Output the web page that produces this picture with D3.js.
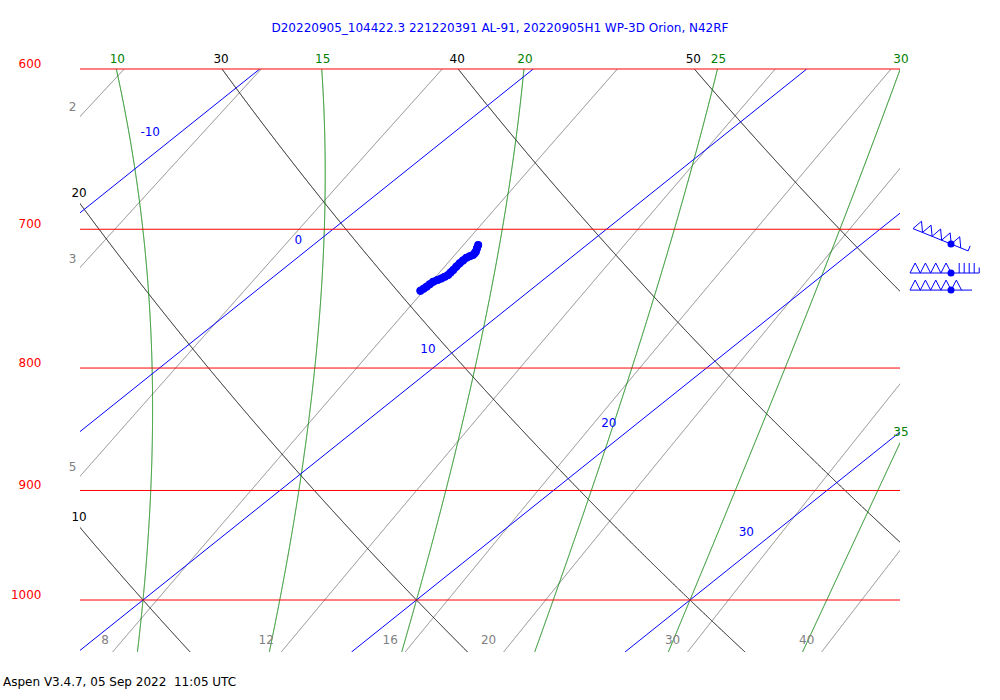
<!DOCTYPE html>
<html><head><meta charset="utf-8">
<script src="https://cdn.jsdelivr.net/npm/d3@7"></script>
<style>
body{margin:0;background:#fff}
text{font-family:"DejaVu Sans",sans-serif;font-size:12px}
</style>
</head><body><svg id="c" width="1000" height="700"></svg>
<script>
// ---------- data ----------
const titleText = "D20220905_104422.3 221220391 AL-91, 20220905H1 WP-3D Orion, N42RF";
const footerText = "Aspen V3.4.7, 05 Sep 2022  11:05 UTC";
const isobars = [600, 700, 800, 900, 1000];
const isotherms = [-10, 0, 10, 20, 30];
const isothermLabelP = [637, 707, 785, 843, 936];
const dryAdiabats = [10, 20, 30, 40, 50];
const moistAdiabats = [10, 15, 20, 25, 30, 35];
const mixingRatios = [2, 3, 5, 8, 12, 16, 20, 30, 40];
const soundP = [742.7, 741.2, 739.8, 738.0, 736.2, 735.0, 733.9, 732.7, 731.5, 729.8, 728.0, 725.6, 723.3, 721.3, 719.4, 718.5, 717.6, 716.4, 715.3, 713.0, 710.7];
const soundT = [6.01, 6.03, 6.05, 6.05, 6.06, 6.14, 6.21, 6.26, 6.30, 6.28, 6.26, 6.22, 6.19, 6.18, 6.18, 6.24, 6.30, 6.28, 6.25, 6.14, 6.03];
const windP = [710.0, 730.1, 742.2];
const windDir = [292, 270, 270];
const windSpd = [255, 245, 250];

// ---------- geometry ----------
const svg = d3.select("#c");
const plot = {left: 80, right: 900, top: 69, bottom: 652};
const y = d3.scaleLog().domain([1000, 600]).range([600, 69]);
const xT = d3.scaleLinear().domain([10, 30]).range([143, 690]);
const skew = 1.25;
const px = (T, p) => xT(T) + skew * (y(1000) - y(p));
const pBot = y.invert(plot.bottom), pTop = 600;

svg.append("defs").append("clipPath").attr("id", "clip")
  .append("rect").attr("x", plot.left).attr("y", plot.top)
  .attr("width", plot.right - plot.left).attr("height", plot.bottom - plot.top);
const gc = svg.append("g").attr("clip-path", "url(#clip)");
const line = d3.line().x(d => px(d[1], d[0])).y(d => y(d[0]));

const pSamples = d3.range(1060, 589.9, -0.25);
const inside = (xx, yy) => xx >= plot.left - 0.01 && xx <= plot.right + 0.01 && yy >= plot.top - 0.01 && yy <= plot.bottom + 0.01;
function ends(prof) {
  const pts = prof.map(d => [px(d[1], d[0]), y(d[0])]).filter(q => inside(q[0], q[1]));
  return {lower: pts[0], upper: pts[pts.length - 1]};
}

// isobars
isobars.forEach(p => {
  svg.append("line").attr("x1", plot.left).attr("x2", plot.right)
    .attr("y1", y(p)).attr("y2", y(p)).attr("stroke", "#ff0000").attr("stroke-width", 1);
  svg.append("text").attr("x", 41.5).attr("y", y(p) - 1).attr("text-anchor", "end")
    .attr("fill", "#ff0000").text(p);
});

// mixing ratio lines
function tdFromW(w, p) {
  const e = w * p / (622 + w);
  const l = Math.log(e / 6.112);
  return 243.5 * l / (17.67 - l);
}
mixingRatios.forEach(w => {
  const prof = pSamples.map(p => [p, tdFromW(w, p)]);
  gc.append("path").attr("d", line(prof)).attr("fill", "none").attr("stroke", "#808080").attr("stroke-width", 1);
  const e = ends(prof);
  const lab = String(w);
  const onLeft = e.lower[0] < plot.left + 1;
  svg.append("text").attr("x", e.lower[0] - 7.5 * lab.length)
    .attr("y", e.lower[1] - (onLeft ? 5 : 7.5))
    .attr("text-anchor", "middle").attr("fill", "#808080").text(lab);
});

// dry adiabats
const kap = 0.2873;
dryAdiabats.forEach(th => {
  const prof = pSamples.map(p => [p, (th + 273.15) * Math.pow(p / 1000, kap) - 273.15]);
  gc.append("path").attr("d", line(prof)).attr("fill", "none").attr("stroke", "#000").attr("stroke-width", 1);
  const e = ends(prof);
  svg.append("text").attr("x", e.upper[0] - 1).attr("y", e.upper[1] - 6.5)
    .attr("text-anchor", "middle").attr("fill", "#000").text(th);
});

// moist adiabats (pseudo-adiabatic, temperature-dependent latent heat)
function lapse(p, T) {
  const Rd = 287.04, cp = 1005.7, eps = 0.622;
  const Tc = T - 273.15;
  const Lv = 2.501e6 - 2150 * Tc;
  const es = 6.112 * Math.exp(17.67 * Tc / (Tc + 243.5));
  const rs = eps * es / (p - es);
  return (Rd * T + Lv * rs) / (cp + Lv * Lv * rs * eps / (Rd * T * T)) / p;
}
function rk4(p, T, h) {
  const k1 = lapse(p, T), k2 = lapse(p + h / 2, T + h / 2 * k1),
        k3 = lapse(p + h / 2, T + h / 2 * k2), k4 = lapse(p + h, T + h * k3);
  return T + h / 6 * (k1 + 2 * k2 + 2 * k3 + k4);
}
function moistProfile(thw) {
  const up = [], down = [];
  let T = thw + 273.15;
  for (let p = 1000; p >= 589.9; p -= 0.25) { up.push([p, T - 273.15]); T = rk4(p, T, -0.25); }
  T = thw + 273.15;
  for (let p = 1000; p <= 1060; p += 0.25) { down.push([p, T - 273.15]); T = rk4(p, T, 0.25); }
  return down.reverse().slice(0, -1).concat(up);
}
moistAdiabats.forEach(th => {
  const prof = moistProfile(th);
  gc.append("path").attr("d", line(prof)).attr("fill", "none").attr("stroke", "#008000").attr("stroke-width", 1);
  const e = ends(prof);
  svg.append("text").attr("x", e.upper[0] + 1).attr("y", e.upper[1] - 6.5)
    .attr("text-anchor", "middle").attr("fill", "#008000").text(th);
});

// isotherms
isotherms.forEach((T, i) => {
  gc.append("path").attr("d", line([[pBot, T], [pTop, T]])).attr("fill", "none")
    .attr("stroke", "#0000ff").attr("stroke-width", 1);
  const lp = isothermLabelP[i];
  const lab = String(T);
  svg.append("text").attr("x", px(T, lp) - (lab.length > 1 ? 22 : 18)).attr("y", y(lp) + 4.5)
    .attr("text-anchor", "end").attr("fill", "#0000ff").text(lab);
});

// sounding
const snd = soundP.map((p, i) => [p, soundT[i]]);
svg.append("path").attr("d", line(snd)).attr("fill", "none").attr("stroke", "#0000ff")
  .attr("stroke-width", 7.5).attr("stroke-linejoin", "round").attr("stroke-linecap", "round");
svg.selectAll("circle.s").data(snd).enter().append("circle").attr("class", "s")
  .attr("cx", d => px(d[1], d[0])).attr("cy", d => y(d[0])).attr("r", 4).attr("fill", "#0000ff");

// wind barbs
const barbX = 951;
function barbPath(cx, cy, dir, spd) {
  const a = (dir - 270) * Math.PI / 180;
  const u = [Math.cos(a), Math.sin(a)], n = [Math.sin(a), -Math.cos(a)];
  const P = (s, h = 0) => [cx + u[0] * s + n[0] * h, cy + u[1] * s + n[1] * h].map(v => v.toFixed(2)).join(",");
  const nP = Math.floor(spd / 50); let r = spd - nP * 50;
  const nB = Math.floor(r / 10); const nH = (r - nB * 10) >= 5 ? 1 : 0;
  const start = -41, pw = 10.3, ph = 10;
  let s = start, d = "";
  for (let i = 0; i < nP; i++) { d += "M" + P(s) + "L" + P(s + pw / 2, ph) + "L" + P(s + pw); s += pw; }
  let end;
  if (nB + nH > 0) {
    let b = s + 8;
    for (let i = 0; i < nB; i++) { d += "M" + P(b) + "L" + P(b, 10); end = b; b += 5; }
    if (nH) { d += "M" + P(b) + "L" + P(b, 5.5); end = b; }
  } else end = s + 10.5;
  d += "M" + P(start) + "L" + P(end);
  return d;
}
windP.forEach((p, i) => {
  svg.append("path").attr("d", barbPath(barbX, y(p), windDir[i], windSpd[i]))
    .attr("fill", "none").attr("stroke", "#0000ff").attr("stroke-width", 1);
  svg.append("circle").attr("cx", barbX).attr("cy", y(p)).attr("r", 3.5).attr("fill", "#0000ff");
});

// title & footer
svg.append("text").attr("x", 500).attr("y", 32).attr("text-anchor", "middle")
  .attr("fill", "#0000ff").text(titleText);
svg.append("text").attr("x", 3).attr("y", 686).attr("fill", "#000")
  .style("white-space", "pre").text(footerText);
</script>
</body></html>
